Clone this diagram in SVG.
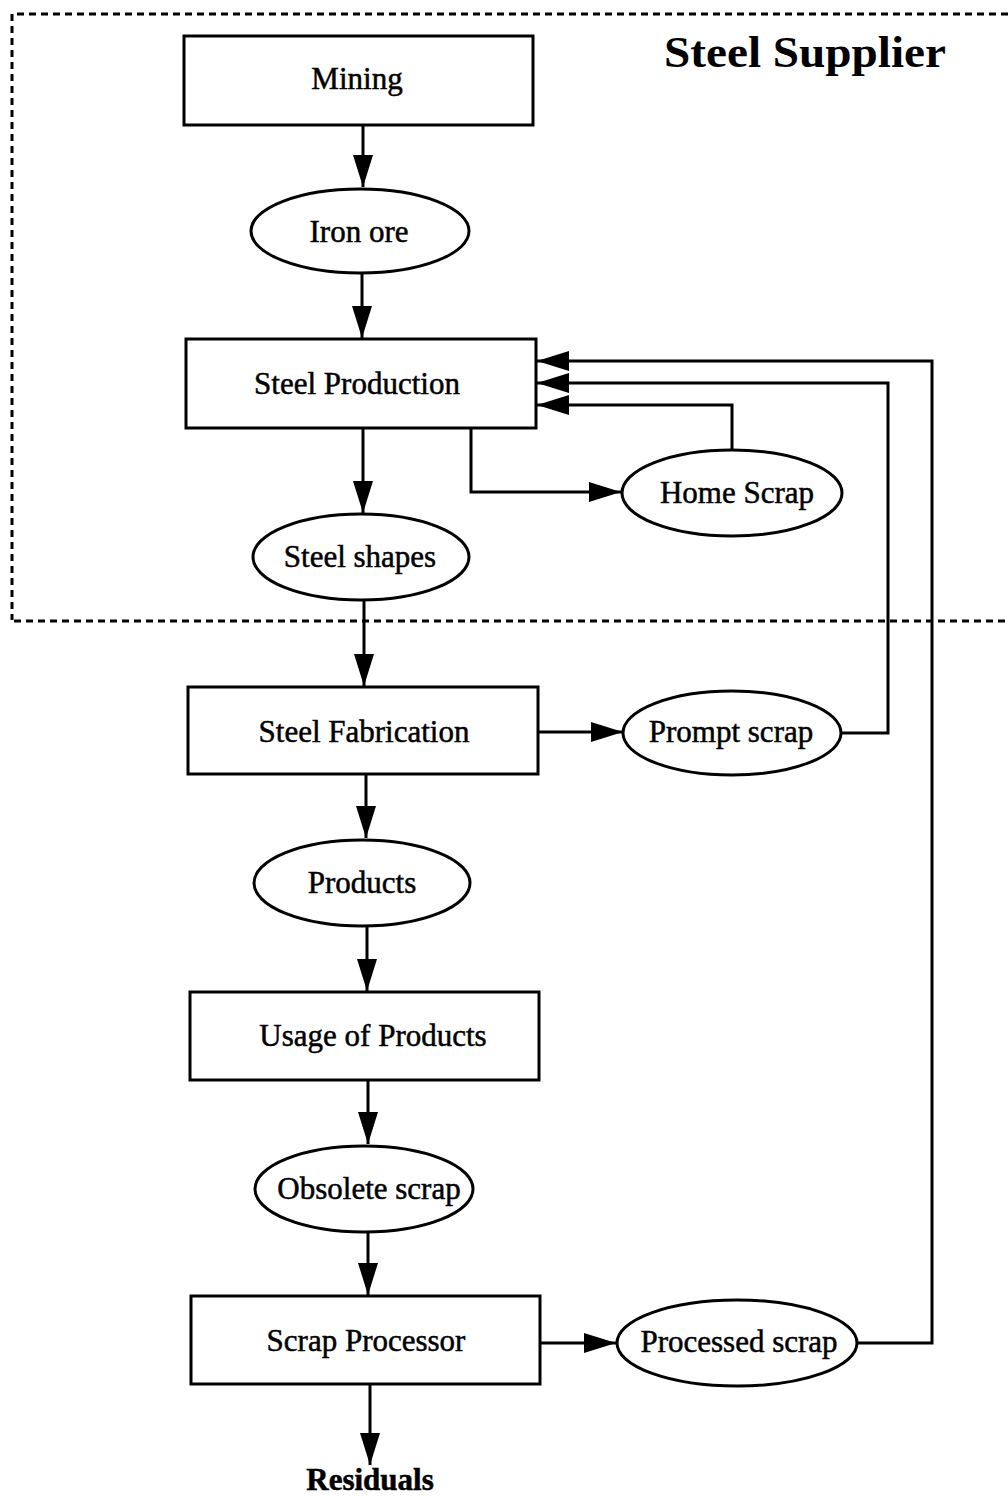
<svg xmlns="http://www.w3.org/2000/svg" width="1008" height="1496" viewBox="0 0 1008 1496">
<style>
.n{fill:#fff;stroke:#000;stroke-width:3}
.t{font-family:"Liberation Serif","Times New Roman",serif;font-size:31px;text-anchor:middle;fill:#000;stroke:#000;stroke-width:0.5}
.c{fill:none;stroke:#000;stroke-width:3}
.d{fill:none;stroke:#000;stroke-width:3;stroke-dasharray:7,5}
</style>
<defs>
<marker id="a" markerUnits="userSpaceOnUse" markerWidth="34" markerHeight="22" refX="32" refY="10" orient="auto">
<path d="M0,0 L32,10 L0,20 Z" fill="#000"/>
</marker>
</defs>
<rect width="1008" height="1496" fill="#fff"/>
<g id="boundary">
<path class="d" d="M1008,14 H12 V620"/>
<path class="d" d="M14,621 H1008"/>
<text x="805" y="67" style="font-family:'Liberation Serif','Times New Roman',serif;font-size:44px;font-weight:bold;text-anchor:middle" textLength="282" lengthAdjust="spacingAndGlyphs">Steel Supplier</text>
</g>
<g id="connectors">
<path class="c" d="M363,125 V187" marker-end="url(#a)"/>
<path class="c" d="M362,273 V338" marker-end="url(#a)"/>
<path class="c" d="M363,428 V513" marker-end="url(#a)"/>
<path class="c" d="M364,600 V686" marker-end="url(#a)"/>
<path class="c" d="M471,428 V492 H621" marker-end="url(#a)"/>
<path class="c" d="M732,450 V405 H537" marker-end="url(#a)"/>
<path class="c" d="M538,732 H623" marker-end="url(#a)"/>
<path class="c" d="M842,733 H888 V383 H537" marker-end="url(#a)"/>
<path class="c" d="M857,1343 H932 V361 H537" marker-end="url(#a)"/>
<path class="c" d="M366,774 V838" marker-end="url(#a)"/>
<path class="c" d="M367,926 V991" marker-end="url(#a)"/>
<path class="c" d="M368,1080 V1144" marker-end="url(#a)"/>
<path class="c" d="M368,1232 V1295" marker-end="url(#a)"/>
<path class="c" d="M540,1343 H616" marker-end="url(#a)"/>
<path class="c" d="M370,1384 V1465" marker-end="url(#a)"/>
</g>
<g id="mining"><rect class="n" x="184" y="36" width="349" height="89"/><text class="t" x="357" y="89">Mining</text></g>
<g id="iron-ore"><ellipse class="n" cx="360" cy="231" rx="109" ry="42"/><text class="t" x="359" y="242">Iron ore</text></g>
<g id="steel-production"><rect class="n" x="186" y="339" width="350" height="89"/><text class="t" x="357" y="394">Steel Production</text></g>
<g id="home-scrap"><ellipse class="n" cx="732" cy="493" rx="110" ry="43"/><text class="t" x="737" y="503">Home Scrap</text></g>
<g id="steel-shapes"><ellipse class="n" cx="361" cy="557" rx="108" ry="43"/><text class="t" x="360" y="567">Steel shapes</text></g>
<g id="steel-fabrication"><rect class="n" x="188" y="687" width="350" height="87"/><text class="t" x="364" y="742">Steel Fabrication</text></g>
<g id="prompt-scrap"><ellipse class="n" cx="732" cy="733" rx="109" ry="42"/><text class="t" x="731" y="742">Prompt scrap</text></g>
<g id="products"><ellipse class="n" cx="362" cy="883" rx="108" ry="43"/><text class="t" x="362" y="893">Products</text></g>
<g id="usage"><rect class="n" x="190" y="992" width="349" height="88"/><text class="t" x="373" y="1046">Usage of Products</text></g>
<g id="obsolete-scrap"><ellipse class="n" cx="364" cy="1189" rx="109" ry="43"/><text class="t" x="369" y="1199">Obsolete scrap</text></g>
<g id="scrap-processor"><rect class="n" x="191" y="1296" width="349" height="88"/><text class="t" x="366" y="1351">Scrap Processor</text></g>
<g id="processed-scrap"><ellipse class="n" cx="737" cy="1343" rx="120" ry="43"/><text class="t" x="739" y="1352">Processed scrap</text></g>
<g id="residuals"><text class="t" x="370" y="1490" style="font-weight:bold">Residuals</text></g>
</svg>
